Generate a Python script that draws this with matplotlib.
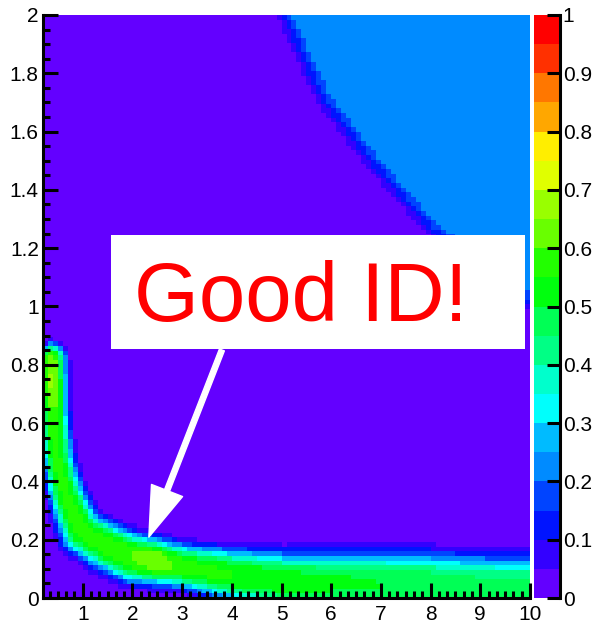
import colorsys
import numpy as np
import matplotlib
matplotlib.use("Agg")
import matplotlib.pyplot as plt
from matplotlib.colors import ListedColormap, BoundaryNorm
from matplotlib.patches import Rectangle, FancyArrowPatch
from matplotlib.ticker import MultipleLocator

plt.rcParams['font.family'] = ['Liberation Sans', 'DejaVu Sans']

# binning of the 2D histogram
x_edges = np.linspace(0.2, 10, 99)
y_edges = np.linspace(0, 2, 126)

# ridge of the band (top-left, going down then right)
ridge_x = [0.34, 0.36, 0.39, 0.45, 0.54, 0.66, 0.82, 1.00, 1.50, 2.00, 2.50,
           3.00, 4.00, 5.00, 6.00, 7.00, 8.00, 9.00, 10.2]
ridge_y = [0.82, 0.74, 0.62, 0.50, 0.42, 0.35, 0.285, 0.228, 0.180, 0.143,
           0.124, 0.107, 0.078, 0.056, 0.050, 0.045, 0.040, 0.032, 0.028]
ridge_peak = [0.63, 0.66, 0.58, 0.56, 0.56, 0.56, 0.57, 0.57, 0.58, 0.60,
              0.64, 0.57, 0.55, 0.53, 0.51, 0.50, 0.49, 0.47, 0.47]
# band width on the outer (above/right) and inner side, in screen px
w_out = [15, 15, 15, 16, 17, 18, 19, 20, 21, 22, 22, 21, 25, 28, 30, 31, 32, 32, 32]
w_in = [12, 12, 12, 13, 14, 16, 19, 22, 24, 25, 22, 20, 24, 27, 28, 30, 28, 25, 25]

# edge of the light blue area (top right), mid line of the transition
edge_x = [5.05, 5.85, 6.90, 8.03, 10.0, 10.6]
edge_y = [2.0, 1.708, 1.479, 1.262, 1.01, 0.95]
sky_level = 0.225
floor_level = 0.02

levels = np.linspace(0, 1, 21)
cbar_ticks = np.linspace(0, 1, 11)

# ROOT "pretty" palette (SetPalette(1)), 20 contours
pal = []
for k in range(20):
    idx = int((k + 0.99) * 50 / 20)
    hue = 280 - (idx + 1) * 280 / 50
    pal.append(colorsys.hls_to_rgb(hue / 360, 0.5, 1.0))
cmap = ListedColormap(pal)
norm = BoundaryNorm(levels, 20)

# screen scale (px per unit) used for distances
sx, sy = 50.0, 291.5
xc = 0.5 * (x_edges[1:] + x_edges[:-1])
yc = 0.5 * (y_edges[1:] + y_edges[:-1])
XC, YC = np.meshgrid(xc, yc)
X, Y = XC * sx, YC * sy

# band
rx = np.array(ridge_x) * sx
ry = np.array(ridge_y) * sy
best = np.full(X.shape, np.inf)
band = np.zeros(X.shape)
for i in range(len(rx) - 1):
    dx, dy = rx[i + 1] - rx[i], ry[i + 1] - ry[i]
    t = np.clip(((X - rx[i]) * dx + (Y - ry[i]) * dy) / (dx * dx + dy * dy), 0, 1)
    d = np.hypot(X - rx[i] - t * dx, Y - ry[i] - t * dy)
    outer = dx * (Y - ry[i]) - dy * (X - rx[i]) > 0
    w = np.where(outer, w_out[i] + t * (w_out[i + 1] - w_out[i]),
                 w_in[i] + t * (w_in[i + 1] - w_in[i]))
    pk = ridge_peak[i] + t * (ridge_peak[i + 1] - ridge_peak[i])
    v = pk * np.exp(-(d / w) ** 3)
    m = d < best
    best[m] = d[m]
    band[m] = v[m]

# light blue area
ex = np.array(edge_x) * sx
ey = np.array(edge_y) * sy
dmin = np.full(X.shape, np.inf)
for i in range(len(ex) - 1):
    dx, dy = ex[i + 1] - ex[i], ey[i + 1] - ey[i]
    t = np.clip(((X - ex[i]) * dx + (Y - ey[i]) * dy) / (dx * dx + dy * dy), 0, 1)
    d = np.hypot(X - ex[i] - t * dx, Y - ey[i] - t * dy)
    dmin = np.minimum(dmin, d)
xb = np.interp(YC, edge_y[::-1], edge_x[::-1])
sd = np.where(XC > xb, dmin, -dmin)
sky = floor_level + (sky_level - floor_level) * np.clip(sd / 20.0 + 0.5, 0, 1)

vals = np.maximum(np.maximum(band, sky), floor_level)

fig = plt.figure(figsize=(5.95, 6.26), dpi=100)
W, H = 595, 626
ax = fig.add_axes([43 / W, 1 - 598 / H, 487 / W, 583 / H])
ax.pcolormesh(x_edges, y_edges, vals, cmap=cmap, norm=norm)
ax.set_xlim(0.2, 10)
ax.set_ylim(0, 2)
for s in ['top', 'right']:
    ax.spines[s].set_visible(False)
for s in ['left', 'bottom']:
    ax.spines[s].set_linewidth(2.2)
ax.xaxis.set_major_locator(MultipleLocator(1))
ax.xaxis.set_minor_locator(MultipleLocator(1 / 6))
ax.yaxis.set_major_locator(MultipleLocator(0.2))
ax.yaxis.set_minor_locator(MultipleLocator(0.05))
ax.tick_params(which='both', direction='in', width=2.2, labelsize=15)
ax.tick_params(which='major', length=10.5)
ax.tick_params(which='minor', length=5)
ax.tick_params(axis='x', pad=5)
ax.tick_params(axis='y', pad=3)
ax.set_yticklabels([f"{v:g}" for v in ax.get_yticks()])

# text box and arrow
ax.add_patch(Rectangle((1.566, 0.854), 8.34, 0.391, facecolor='white',
                       edgecolor='none', zorder=3))
ax.text(2.03, 0.95, "Good ID!", color='red', fontsize=60, ha='left',
        va='baseline', zorder=4)
arr = FancyArrowPatch((3.80, 0.851), (2.33, 0.209),
                      arrowstyle='simple,head_length=36,head_width=24,tail_width=3.8',
                      mutation_scale=1, color='white', zorder=4,
                      shrinkA=0, shrinkB=0)
ax.add_patch(arr)

# colour scale
cax = fig.add_axes([534 / W, 1 - 598 / H, 26 / W, 583 / H])
mids = 0.5 * (levels[1:] + levels[:-1])
cax.pcolormesh([0, 1], levels, mids[:, None], cmap=cmap, norm=norm)
cax.set_xlim(0, 1)
cax.set_ylim(0, 1)
for s in ['top', 'left', 'bottom']:
    cax.spines[s].set_visible(False)
cax.spines['right'].set_linewidth(2.2)
cax.set_xticks([])
cax.yaxis.tick_right()
cax.set_yticks(cbar_ticks)
cax.set_yticklabels([f"{v:g}" for v in cbar_ticks])
cax.tick_params(axis='y', direction='in', length=9.5, width=2.2, labelsize=15, pad=2)

fig.savefig("out.png", dpi=100)
